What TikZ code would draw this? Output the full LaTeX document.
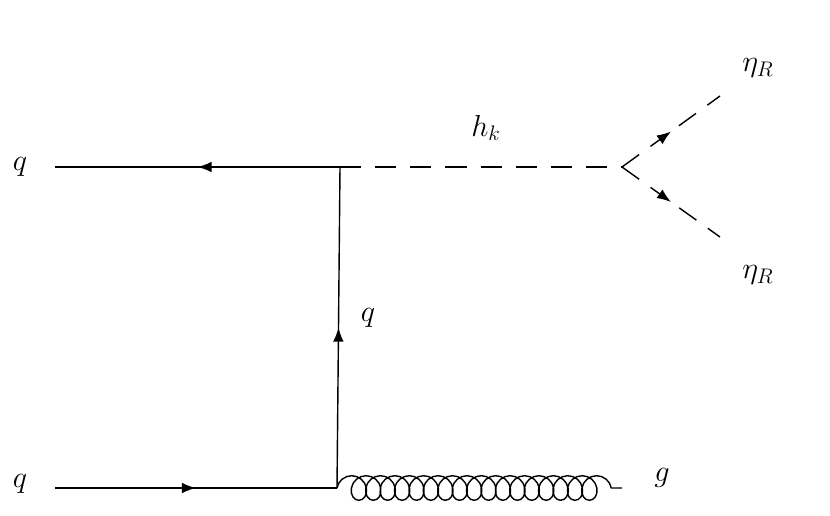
\documentclass[tikz,border=0pt]{standalone}
\usetikzlibrary{decorations.pathmorphing,decorations.markings,arrows.meta}
\tikzset{>=latex}
\tikzset{fermion/.style = {thick, postaction={decorate},
decoration={markings, mark=at position 0.5 with {\arrow{Latex[length=8pt,width=6pt]}}}},
scalar/.style = {thick, dash pattern=on 12pt off 8pt},
scalararrow/.style = {scalar, postaction={decorate},
decoration={markings, mark=at position 0.5 with {\arrow{Latex[length=8pt,width=6pt]}}}},
gluon/.style = {thick, decorate, decoration={coil, amplitude=7pt, segment length=8.2pt, aspect=0.9}},
lbl/.style = {font=\LARGE}}

\begin{document}
\begin{tikzpicture}[x=0.02cm,y=-0.02cm]
                \useasboundingbox (0,0) rectangle (830,516);
                \coordinate (qa) at (55,167);
                \coordinate (qb) at (55,488);
                \coordinate (va) at (340,167);
                \coordinate (vb) at (337,488);
                \coordinate (vc) at (622,167);
                \coordinate (ea) at (720,96);
                \coordinate (eb) at (720,237);
                \coordinate (g) at (622,488);

                \draw[fermion] (va) to (qa);
                \draw[fermion] (qb) to (vb);
                \draw[fermion] (vb) to (va);
                \draw[scalar] (va) to (vc);
                \draw[scalararrow] (vc) to (ea);
                \draw[scalararrow] (vc) to (eb);
                \draw[gluon] (vb) to (g);

                \node[lbl] (lqa) at (20,167) {$q$};
                \node[lbl] (lqb) at (20,484) {$q$};
                \node[lbl] (lq) at (368,318) {$q$};
                \node[lbl] (lh) at (486,128) {$h_k$};
                \node[lbl] (lea) at (758,68) {$\eta_R$};
                \node[lbl] (leb) at (758,275) {$\eta_R$};
                \node[lbl] (lg) at (662,478) {$g$};
            \end{tikzpicture}
\end{document}
